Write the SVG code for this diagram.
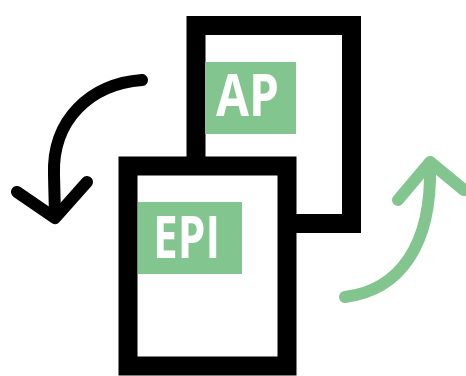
<svg xmlns="http://www.w3.org/2000/svg" width="466" height="376" viewBox="0 0 466 376">
<style>
.frame{fill:#fff;stroke:#000;stroke-width:19}
.tag{fill:#82c58e}
.lbl{fill:#fff;font-family:"Open Sans","Liberation Sans",sans-serif;font-weight:bold;font-size:59px}
.arr{fill:none;stroke-width:12;stroke-linecap:round;stroke-linejoin:round}
</style>
<rect width="466" height="376" fill="#fff"/>
<g id="ap">
<rect class="frame" x="196" y="25.5" width="155.5" height="198"/>
<rect class="tag" x="205" y="62" width="91" height="72"/>
<text class="lbl" x="216" y="116" textLength="63" lengthAdjust="spacingAndGlyphs">AP</text>
</g>
<g id="epi">
<rect class="frame" x="128" y="166" width="159" height="200"/>
<rect class="tag" x="138" y="202" width="104" height="72"/>
<text class="lbl" x="153" y="258" textLength="67" lengthAdjust="spacingAndGlyphs">EPI</text>
</g>
<g id="connectors">
<path class="arr" stroke="#000" d="M142,80 C90,84 52,120 54,175 L55,216"/>
<path class="arr" stroke="#000" d="M17,192 L55,218 L87,182"/>
<path class="arr" stroke="#82c58e" d="M345,297 C400,290 432,245 430,166"/>
<path class="arr" stroke="#82c58e" d="M398,200 L430,162 L464,190"/>
</g>
</svg>
